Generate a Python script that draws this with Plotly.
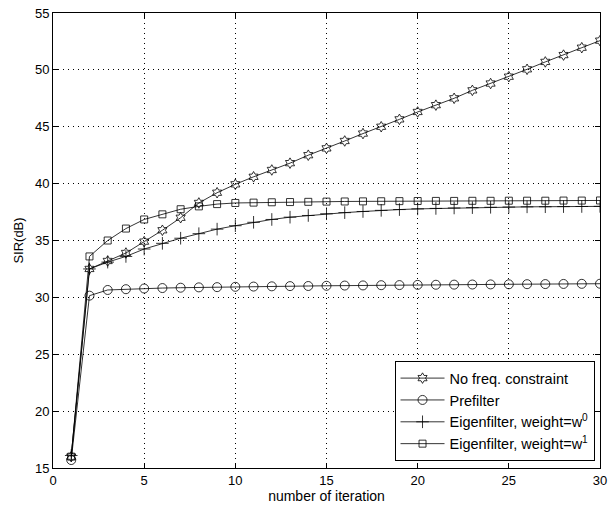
import plotly.graph_objects as go

iterations = list(range(1, 31))

no_freq = [16.0, 32.5, 33.2, 33.9, 34.9, 35.9, 37.0, 38.3, 39.2, 39.94,
           40.6, 41.2, 41.8, 42.5, 43.1, 43.75, 44.4, 45.0, 45.65, 46.3,
           46.9, 47.5, 48.2, 48.8, 49.4, 50.05, 50.7, 51.3, 51.95, 52.57]

prefilter = [15.7, 30.15, 30.65, 30.72, 30.78, 30.82, 30.85, 30.88, 30.9, 30.93,
             30.95, 30.97, 30.99, 31.0, 31.02, 31.04, 31.05, 31.07, 31.08, 31.1,
             31.11, 31.12, 31.13, 31.14, 31.15, 31.16, 31.17, 31.18, 31.19, 31.2]

eigen_w0 = [16.1, 32.5, 33.1, 33.6, 34.25, 34.75, 35.2, 35.6, 36.0, 36.3,
            36.6, 36.85, 37.05, 37.2, 37.35, 37.45, 37.55, 37.65, 37.72, 37.78,
            37.82, 37.86, 37.89, 37.92, 37.94, 37.96, 37.97, 37.98, 37.99, 38.0]

eigen_w1 = [16.0, 33.6, 35.0, 36.05, 36.85, 37.3, 37.75, 38.0, 38.2, 38.3,
            38.33, 38.36, 38.38, 38.4, 38.42, 38.43, 38.44, 38.45, 38.46, 38.47,
            38.48, 38.48, 38.49, 38.49, 38.5, 38.5, 38.5, 38.51, 38.51, 38.52]

x_ticks = [0, 5, 10, 15, 20, 25, 30]
y_ticks = [15, 20, 25, 30, 35, 40, 45, 50, 55]

series = [
    ("No freq. constraint", no_freq, "hexagram-open", 8),
    ("Prefilter", prefilter, "circle-open", 9),
    ("Eigenfilter, weight=w<sup>0</sup>", eigen_w0, "cross-thin-open", 9),
    ("Eigenfilter, weight=w<sup>1</sup>", eigen_w1, "square-open", 7),
]

fig = go.Figure()
for name, vals, sym, sz in series:
    fig.add_trace(go.Scatter(
        x=iterations, y=vals, name=name, mode="lines+markers",
        line=dict(color="black", width=0.8),
        marker=dict(symbol=sym, size=sz, color="black", line=dict(color="black", width=0.8)),
    ))

axis_common = dict(
    showline=True, linecolor="black", linewidth=1, mirror="ticks",
    ticks="inside", ticklen=5, tickcolor="black", tickwidth=1,
    showgrid=True, gridcolor="black", gridwidth=1, griddash="1px,4px",
    zeroline=False, tickfont=dict(size=13, color="black"),
    ticklabeloverflow="allow",
)

fig.update_layout(
    width=613, height=510,
    margin=dict(l=53, r=6, t=13, b=42),
    paper_bgcolor="white", plot_bgcolor="white",
    font=dict(family="Liberation Sans, Arial, sans-serif", size=12, color="black"),
    xaxis=dict(range=[0, 30], tickvals=x_ticks,
               title=dict(text="number of iteration", standoff=2, font=dict(size=14)),
               **axis_common),
    yaxis=dict(range=[15, 55], tickvals=y_ticks,
               title=dict(text="SIR(dB)", standoff=8, font=dict(size=13)),
               **axis_common),
    legend=dict(x=0.99, y=0.015, xanchor="right", yanchor="bottom",
                bgcolor="white", bordercolor="black", borderwidth=1,
                font=dict(size=14.5), tracegroupgap=0, itemwidth=44),
    showlegend=True,
)

fig.write_html("out.html")
